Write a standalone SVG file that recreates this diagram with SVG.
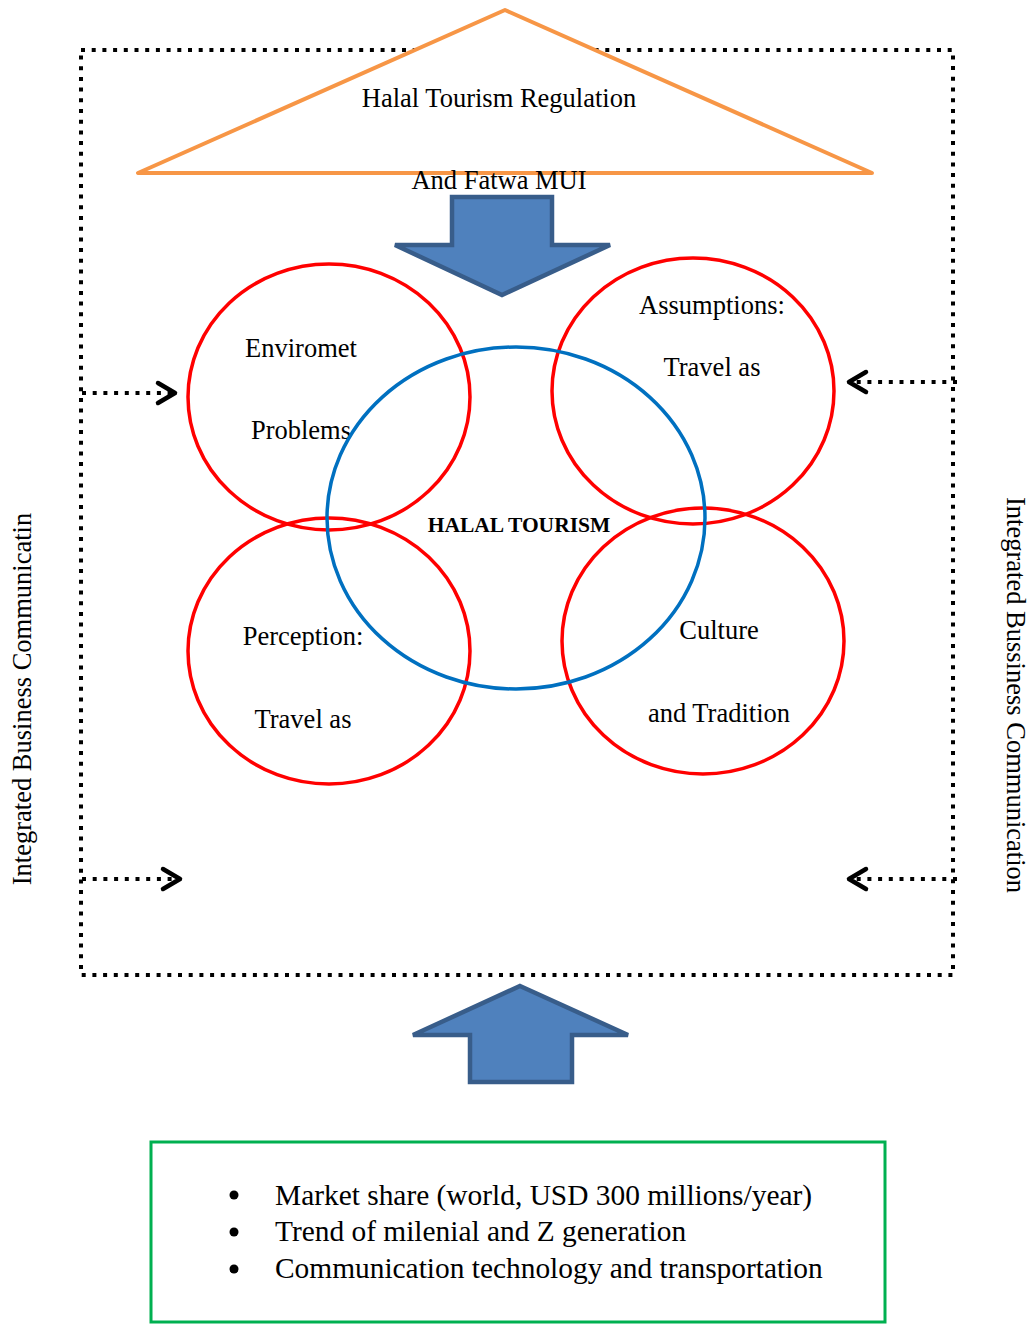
<svg xmlns="http://www.w3.org/2000/svg" width="1031" height="1324" viewBox="0 0 1031 1324">
<style>
text{font-family:"Liberation Serif","Times New Roman",serif;fill:#000}
.t{font-size:26.5px;text-anchor:middle}
.b{font-size:29.4px}
.red{fill:none;stroke:#FF0000;stroke-width:3.5}
.dot{fill:none;stroke:#000;stroke-width:4;stroke-dasharray:4 6.7}
.blk{fill:#4F81BD;stroke:#385D8A;stroke-width:4.5}
.head{fill:none;stroke:#000;stroke-width:4.5;stroke-linecap:round;stroke-linejoin:round}
</style>
<rect width="1031" height="1324" fill="#fff"/>
<g id="frame">
<rect class="dot" x="81" y="50" width="872" height="925"/>
</g>
<g id="regulation">
<polygon points="505,10 138,173 872,173" fill="#fff" stroke="#F79646" stroke-width="4" stroke-linejoin="round"/>
<text class="t" x="499" y="107">Halal Tourism Regulation</text>
<text class="t" x="499" y="189">And Fatwa MUI</text>
</g>
<g id="connectors">
<polygon class="blk" points="452,197 552,197 552,245 610,245 502,295 395,245 452,245"/>
<polygon class="blk" points="520,986 628,1035 572,1035 572,1082 470,1082 470,1035 413,1035"/>
<line class="dot" x1="82" y1="393" x2="172" y2="393"/>
<polyline class="head" points="158,383 175,393 158,403"/>
<line class="dot" x1="82" y1="879" x2="176" y2="879"/>
<polyline class="head" points="163,869 180,879 163,889"/>
<line class="dot" x1="957" y1="382" x2="852" y2="382"/>
<polyline class="head" points="866,372 849,382 866,392"/>
<line class="dot" x1="957" y1="879" x2="852" y2="879"/>
<polyline class="head" points="866,869 849,879 866,889"/>
</g>
<g id="environment">
<ellipse class="red" cx="329" cy="397" rx="141" ry="133"/>
<text class="t" x="301" y="357">Enviromet</text>
<text class="t" x="301" y="439">Problems</text>
</g>
<g id="assumptions">
<ellipse class="red" cx="693" cy="391" rx="141" ry="133"/>
<text class="t" x="712" y="314">Assumptions:</text>
<text class="t" x="712" y="376">Travel as</text>
</g>
<g id="perception">
<ellipse class="red" cx="329" cy="651" rx="141" ry="133"/>
<text class="t" x="303" y="645">Perception:</text>
<text class="t" x="303" y="728">Travel as</text>
</g>
<g id="culture">
<ellipse class="red" cx="703" cy="641" rx="141" ry="133"/>
<text class="t" x="719" y="639">Culture</text>
<text class="t" x="719" y="722">and Tradition</text>
</g>
<g id="halal">
<ellipse cx="516" cy="518" rx="189" ry="171" fill="none" stroke="#0070C0" stroke-width="3.5"/>
<text x="519" y="532" font-size="21.5" font-weight="bold" text-anchor="middle">HALAL TOURISM</text>
</g>
<g id="left-label">
<text class="t" transform="translate(31,699) rotate(-90)">Integrated Business Communicatin</text>
</g>
<g id="right-label">
<text class="t" transform="translate(1007,695) rotate(90)">Integrated Bussiness Communication</text>
</g>
<g id="factors">
<rect x="151" y="1142" width="734" height="180" fill="none" stroke="#00B050" stroke-width="3"/>
<circle cx="234" cy="1195" r="4.5"/>
<circle cx="234" cy="1232" r="4.5"/>
<circle cx="234" cy="1269" r="4.5"/>
<text class="b" x="275" y="1205">Market share (world, USD 300 millions/year)</text>
<text class="b" x="275" y="1241">Trend of milenial and Z generation</text>
<text class="b" x="275" y="1278">Communication technology and transportation</text>
</g>
</svg>
